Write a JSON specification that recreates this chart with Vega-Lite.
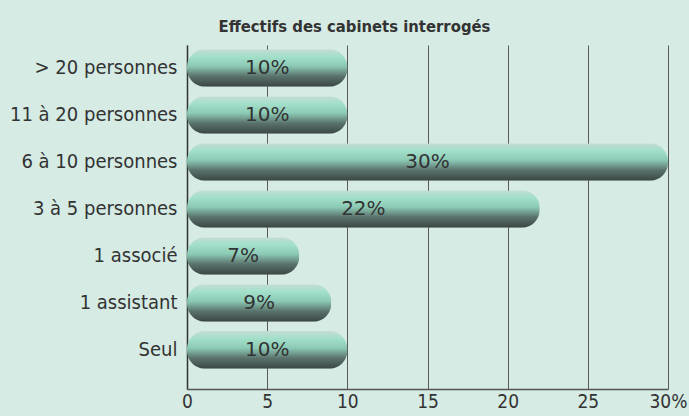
{
  "$schema": "https://vega.github.io/schema/vega-lite/v6.json",
  "width": 481,
  "height": 344,
  "autosize": "none",
  "padding": {"left": 187, "top": 45, "right": 21, "bottom": 27},
  "background": "#d5ebe3",
  "config": {"view": {"stroke": null}},
  "title": {
    "text": "Effectifs des cabinets interrogés",
    "font": "DejaVu Sans Condensed",
    "fontWeight": "bold",
    "fontSize": 16.5,
    "color": "#333333",
    "anchor": "middle",
    "dx": -73,
    "offset": 10
  },
  "data": {
    "values": [
      {"categorie": "> 20 personnes", "pct": 10},
      {"categorie": "11 à 20 personnes", "pct": 10},
      {"categorie": "6 à 10 personnes", "pct": 30},
      {"categorie": "3 à 5 personnes", "pct": 22},
      {"categorie": "1 associé", "pct": 7},
      {"categorie": "1 assistant", "pct": 9},
      {"categorie": "Seul", "pct": 10}
    ]
  },
  "encoding": {
    "y": {
      "field": "categorie",
      "type": "nominal",
      "sort": null,
      "scale": {"paddingInner": 0.2, "paddingOuter": 0.26, "align": 0.17},
      "axis": {
        "title": null,
        "ticks": false,
        "labelPadding": 10,
        "labelFont": "DejaVu Sans Condensed",
        "labelFontSize": 20,
        "labelColor": "#333333",
        "domainColor": "#333333",
        "domainWidth": 1.5,
        "grid": false
      }
    }
  },
  "layer": [
    {
      "mark": {
        "type": "bar",
        "cornerRadius": 18,
        "fill": {
          "gradient": "linear",
          "x1": 0, "y1": 0, "x2": 0, "y2": 1,
          "stops": [
            {"offset": 0, "color": "#c4dcd4"},
            {"offset": 0.2, "color": "#a2e0ca"},
            {"offset": 0.45, "color": "#8ccab6"},
            {"offset": 0.72, "color": "#5a726c"},
            {"offset": 1, "color": "#3a4644"}
          ]
        }
      },
      "encoding": {
        "x": {
          "field": "pct",
          "type": "quantitative",
          "scale": {"domain": [0, 30], "nice": false},
          "axis": {
            "title": null,
            "values": [0, 5, 10, 15, 20, 25, 30],
            "ticks": false,
            "labelPadding": 3,
            "labelFont": "DejaVu Sans Condensed",
            "labelFontSize": 19,
            "labelColor": "#333333",
            "labelFlush": false,
            "labelExpr": "datum.value == 30 ? '30%' : datum.label",
            "domainColor": "#555555",
            "domainWidth": 1.5,
            "grid": true,
            "gridColor": "#5a5a5a",
            "gridWidth": 1,
            "gridOpacity": 1
          }
        }
      }
    },
    {
      "mark": {
        "type": "text",
        "font": "DejaVu Sans",
        "fontSize": 20,
        "color": "#333333",
        "align": "center",
        "baseline": "middle",
        "text": {"expr": "datum.pct + '%'"}
      },
      "encoding": {
        "x": {
          "field": "pct",
          "type": "quantitative",
          "scale": {"domain": [0, 60], "nice": false},
          "axis": null
        }
      }
    }
  ],
  "resolve": {"scale": {"x": "independent"}}
}
